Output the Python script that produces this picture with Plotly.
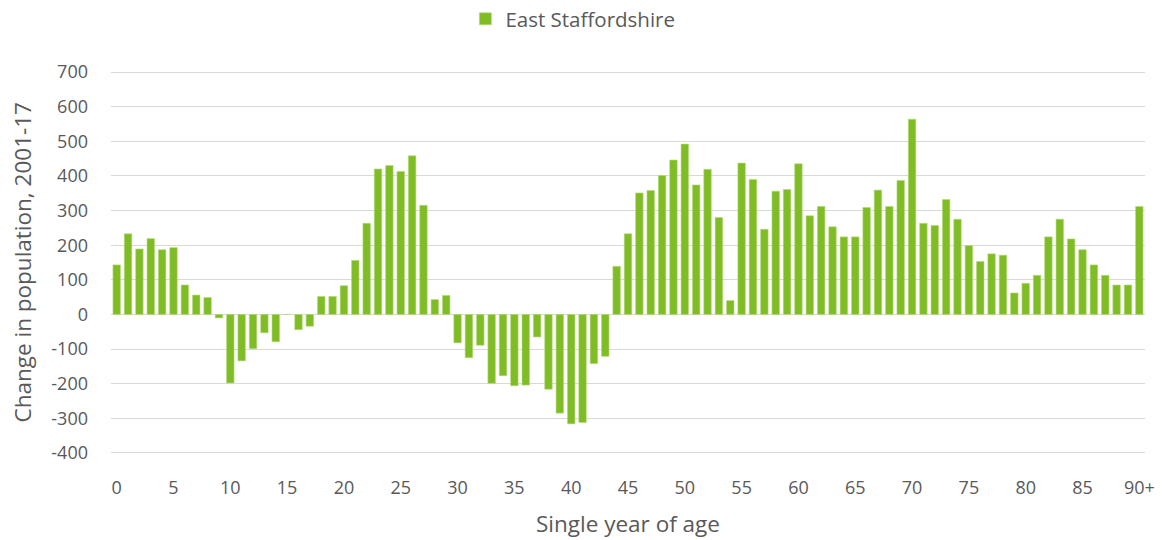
import plotly.graph_objects as go

# ------------------------------------------------------------------ data
AGES = [str(a) for a in range(90)] + ["90+"]
CHANGE = [
    143, 233, 189, 219, 187, 193, 85, 56, 49, -10,
    -198, -134, -99, -53, -79, 0, -44, -34, 52, 52,
    83, 156, 263, 420, 430, 413, 458, 315, 43, 55,
    -82, -125, -89, -199, -177, -206, -204, -65, -216, -285,
    -316, -312, -142, -121, 139, 233, 351, 358, 401, 446,
    492, 374, 419, 280, 40, 437, 390, 246, 356, 361,
    435, 285, 312, 253, 224, 224, 309, 359, 312, 387,
    564, 263, 257, 332, 275, 199, 153, 175, 171, 62,
    90, 113, 224, 275, 218, 187, 143, 113, 85, 85,
    312,
]
TICK_AGES = [AGES[i] for i in range(0, 91, 5)]
Y_TICKS = list(range(-400, 701, 100))
Y_LABELS = [str(v) for v in Y_TICKS]  # plain hyphen minus, as in the source
SERIES = "East Staffordshire"

GREEN = "#80BC25"
GRID = "#D9D9D9"
TEXT = "#595959"
FONT = "Open Sans, Noto Sans, sans-serif"

fig = go.Figure(
    go.Bar(
        x=AGES, y=CHANGE, name=SERIES,
        marker=dict(color=GREEN, line=dict(color="#B5DB7A", width=0.6)),
        showlegend=True,
    )
)

fig.update_layout(
    width=1162, height=540,
    margin=dict(l=111, r=17, t=71, b=86),
    paper_bgcolor="white", plot_bgcolor="white",
    font=dict(family=FONT, size=18, color=TEXT),
    bargap=0.34,
    legend=dict(orientation="h", xref="container", yref="container",
                x=0.4005, xanchor="left", y=1 - 19 / 540, yanchor="middle",
                font=dict(size=20.5, color=TEXT), itemwidth=30),
    annotations=[
        dict(text="Single year of age", xref="paper", yref="paper", x=0.5, y=0,
             yshift=-69, showarrow=False, yanchor="middle",
             font=dict(size=22.5, color=TEXT)),
        dict(text="Change in population, 2001-17", xref="paper", yref="paper",
             x=0, y=0.5, xshift=-89, textangle=-90, showarrow=False,
             xanchor="center", font=dict(size=22.5, color=TEXT)),
    ],
)
fig.update_xaxes(
    type="category", tickvals=TICK_AGES, ticktext=TICK_AGES, automargin=False,
    showgrid=False, zeroline=False, ticks="", ticklabelstandoff=21,
)
# pad the range a hair so the 700 and -400 gridlines still get drawn
fig.update_yaxes(
    range=[-403, 703], tickvals=Y_TICKS, ticktext=Y_LABELS, automargin=False,
    showgrid=True, gridcolor=GRID, gridwidth=1.3,
    zeroline=True, zerolinecolor=GRID, zerolinewidth=1.3,
    ticks="", ticklabelstandoff=22,
)

# the page's default body margin would push the chart 8px down and right
fig.write_html("out.html", config={"displayModeBar": False},
               post_script="document.body.style.margin='0';")
